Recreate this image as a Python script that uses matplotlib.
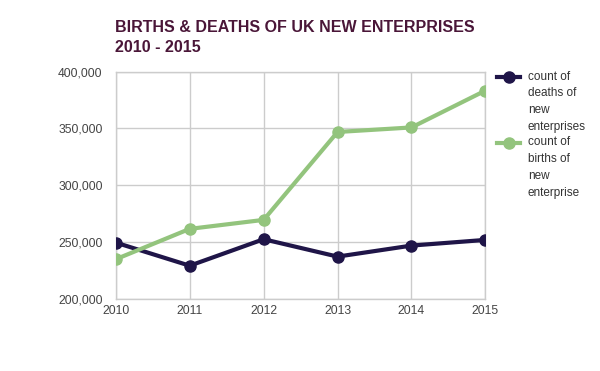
import matplotlib
matplotlib.use("Agg")
import matplotlib.pyplot as plt
from matplotlib.lines import Line2D
from matplotlib.ticker import FuncFormatter

plt.rcParams["font.family"] = ["Liberation Sans", "DejaVu Sans"]

years = [2010, 2011, 2012, 2013, 2014, 2015]
deaths = [249600, 229300, 252600, 237300, 247000, 252000]
births = [235000, 261700, 269600, 346900, 350900, 383300]
labels = ["count of\ndeaths of\nnew\nenterprises", "count of\nbirths of\nnew\nenterprise"]

dark = "#1f1548"
green = "#93c47d"
grid_c = "#cccccc"
W, H = 600, 371

fig = plt.figure(figsize=(6, 3.71), dpi=100)
ax = fig.add_axes([0.193, 0.194, 0.616, 0.613])

ax.plot(years, deaths, color=dark, lw=3, marker="o", ms=8, zorder=3)
ax.plot(years, births, color=green, lw=3, marker="o", ms=8, zorder=3)

ax.set_xlim(2010, 2015)
ax.set_ylim(200000, 400000)
ax.set_xticks(years)
ax.set_yticks(range(200000, 400001, 50000))
ax.yaxis.set_major_formatter(FuncFormatter(lambda v, p: f"{int(v):,}"))
ax.grid(True, color=grid_c, lw=1)
ax.set_axisbelow(True)
for s in ax.spines.values():
    s.set_color(grid_c)
    s.set_linewidth(1)
ax.tick_params(length=0, labelsize=8.7, labelcolor="#444444")
ax.tick_params(axis="y", pad=9.5)
ax.tick_params(axis="x", pad=4)

# title, two lines
tkw = dict(ha="left", va="baseline", fontsize=11.5, fontweight="bold", color="#4a1638")
fig.text(115 / W, 1 - 32 / H, "BIRTHS & DEATHS OF UK NEW ENTERPRISES", **tkw)
fig.text(115 / W, 1 - 52 / H, "2010 - 2015", **tkw)

# legend, handle beside first line of each label
for i, (lab, col) in enumerate(zip(labels, [dark, green])):
    y0 = 1 - (77 + i * 66) / H
    fig.add_artist(Line2D([497 / W, 520 / W], [y0, y0], transform=fig.transFigure,
                          color=col, lw=3, marker="o", markevery=[0], ms=0))
    fig.add_artist(Line2D([508.5 / W], [y0], transform=fig.transFigure,
                          color=col, marker="o", ms=8, lw=0))
    fig.text(528 / W, y0, lab, ha="left", va="top", fontsize=8.5, color="#333333",
             linespacing=1.55, transform=fig.transFigure).set_y(y0 + 6.5 / H)

fig.savefig("out.png", dpi=100)
